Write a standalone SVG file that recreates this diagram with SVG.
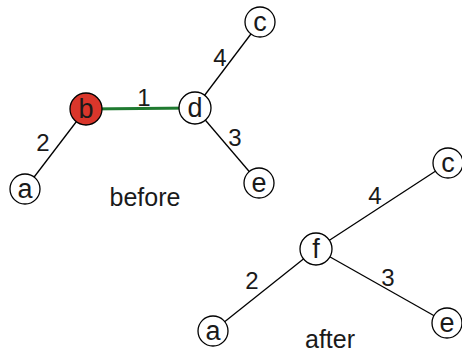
<svg xmlns="http://www.w3.org/2000/svg" width="462" height="352" viewBox="0 0 462 352">
<style>
.n{fill:#fff;stroke:#000;stroke-width:1.3}
.r{fill:#d9362b;stroke:#000;stroke-width:1.3}
.e{stroke:#000;stroke-width:1.3;fill:none}
.g{stroke:#1f7a30;stroke-width:3;fill:none}
text{font-family:"Liberation Sans",Arial,sans-serif;fill:#1a1a1a;text-anchor:middle}
.t{font-size:27px}
.w{font-size:24px}
.c{font-size:25px}
</style>
<rect width="462" height="352" fill="#fff"/>
<g id="edges">
<line class="e" x1="25" y1="189" x2="86" y2="109"/>
<line class="g" x1="86" y1="109" x2="195" y2="108"/>
<line class="e" x1="195" y1="108" x2="260" y2="22"/>
<line class="e" x1="195" y1="108" x2="259" y2="183"/>
<line class="e" x1="213" y1="331" x2="316" y2="249"/>
<line class="e" x1="316" y1="249" x2="448" y2="163"/>
<line class="e" x1="316" y1="249" x2="447" y2="323"/>
<text class="w" x="144" y="106">1</text>
<text class="w" x="220" y="66">4</text>
<text class="w" x="235" y="146">3</text>
<text class="w" x="43" y="151">2</text>
<text class="w" x="375" y="204">4</text>
<text class="w" x="388" y="286">3</text>
<text class="w" x="252" y="289">2</text>
</g>
<g id="b1"><circle class="r" cx="86" cy="109" r="16"/><text class="t" x="86" y="118">b</text></g>
<g id="d1"><circle class="n" cx="195" cy="108" r="16"/><text class="t" x="195" y="117">d</text></g>
<g id="c1"><circle class="n" cx="260" cy="22" r="15"/><text class="t" x="260" y="31">c</text></g>
<g id="e1"><circle class="n" cx="259" cy="183" r="15"/><text class="t" x="259" y="192">e</text></g>
<g id="a1"><circle class="n" cx="25" cy="189" r="15"/><text class="t" x="25" y="198">a</text></g>
<g id="f2"><circle class="n" cx="316" cy="249" r="16"/><text class="t" x="316" y="258">f</text></g>
<g id="c2"><circle class="n" cx="448" cy="163" r="15"/><text class="t" x="448" y="172">c</text></g>
<g id="e2"><circle class="n" cx="447" cy="323" r="15"/><text class="t" x="447" y="332">e</text></g>
<g id="a2"><circle class="n" cx="213" cy="331" r="15"/><text class="t" x="213" y="340">a</text></g>
<text class="c" x="145" y="206">before</text>
<text class="c" x="330" y="348">after</text>
</svg>
